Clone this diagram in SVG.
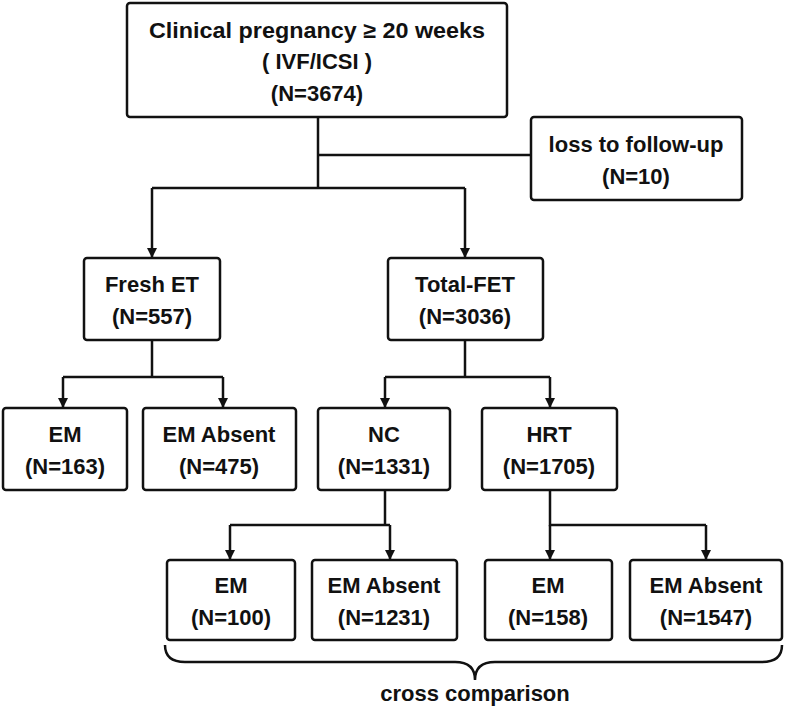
<svg xmlns="http://www.w3.org/2000/svg" width="786" height="708" viewBox="0 0 786 708">
<defs>
<style>
rect{fill:#fff;stroke:#111;stroke-width:2.5;rx:3px}
text{font-family:"Liberation Sans",Arial,sans-serif;font-weight:bold;font-size:22px;fill:#111;text-anchor:middle}
.c path,.c line{stroke:#111;stroke-width:2.5;fill:none}
</style>
<marker id="a" markerWidth="10" markerHeight="10" refX="9" refY="5" orient="auto" markerUnits="userSpaceOnUse"><path d="M0,0 L10,5 L0,10 z" fill="#111"/></marker>
</defs>
<g class="c">
<path d="M318,117 V188"/><path d="M318,155 H531"/>
<path d="M152,188 H465"/><path d="M152,188 V257" marker-end="url(#a)"/><path d="M465,188 V257" marker-end="url(#a)"/>
<path d="M152,340 V377"/><path d="M63,377 H223"/><path d="M63,377 V407" marker-end="url(#a)"/><path d="M223,377 V407" marker-end="url(#a)"/>
<path d="M465,340 V377"/><path d="M385,377 H550"/><path d="M385,377 V407" marker-end="url(#a)"/><path d="M550,377 V407" marker-end="url(#a)"/>
<path d="M385,490 V525"/><path d="M230,525 H390"/><path d="M230,525 V559" marker-end="url(#a)"/><path d="M390,525 V559" marker-end="url(#a)"/>
<path d="M550,490 V525 H706"/><path d="M550,525 V559" marker-end="url(#a)"/><path d="M706,525 V559" marker-end="url(#a)"/>
<path d="M165,645 Q165,662 185,662 H455 Q475,662 475,680 Q475,662 495,662 H762 Q782,662 782,645"/>
</g>
<g id="top"><rect x="127" y="3" width="380" height="114"/><text x="317" y="38" textLength="336" lengthAdjust="spacingAndGlyphs">Clinical pregnancy ≥ 20 weeks</text><text x="317" y="69">( IVF/ICSI )</text><text x="317" y="101">(N=3674)</text></g>
<g id="loss"><rect x="531" y="117" width="211" height="83"/><text x="636" y="152">loss to follow-up</text><text x="636" y="184">(N=10)</text></g>
<g id="fresh"><rect x="84" y="258" width="136" height="82"/><text x="152" y="292">Fresh ET</text><text x="152" y="324">(N=557)</text></g>
<g id="fet"><rect x="388" y="258" width="155" height="82"/><text x="465" y="292">Total-FET</text><text x="465" y="324">(N=3036)</text></g>
<g id="em1"><rect x="3" y="408" width="124" height="82"/><text x="65" y="442">EM</text><text x="65" y="474">(N=163)</text></g>
<g id="ema1"><rect x="143" y="408" width="153" height="82"/><text x="219" y="442">EM Absent</text><text x="219" y="474">(N=475)</text></g>
<g id="nc"><rect x="318" y="408" width="132" height="82"/><text x="384" y="442">NC</text><text x="384" y="474">(N=1331)</text></g>
<g id="hrt"><rect x="482" y="408" width="135" height="82"/><text x="549" y="442">HRT</text><text x="549" y="474">(N=1705)</text></g>
<g id="em2"><rect x="167" y="560" width="128" height="80"/><text x="231" y="593">EM</text><text x="231" y="625">(N=100)</text></g>
<g id="ema2"><rect x="312" y="560" width="145" height="80"/><text x="384" y="593">EM Absent</text><text x="384" y="625">(N=1231)</text></g>
<g id="em3"><rect x="485" y="560" width="127" height="80"/><text x="548" y="593">EM</text><text x="548" y="625">(N=158)</text></g>
<g id="ema3"><rect x="630" y="560" width="152" height="80"/><text x="706" y="593">EM Absent</text><text x="706" y="625">(N=1547)</text></g>
<text x="475" y="701">cross comparison</text>
</svg>
